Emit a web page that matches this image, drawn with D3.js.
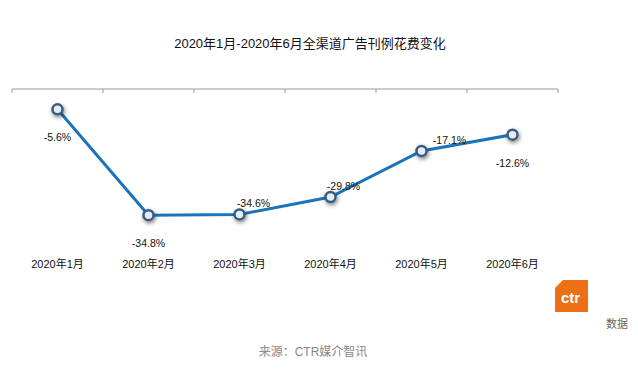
<!DOCTYPE html>
<html>
<head>
<meta charset="utf-8">
<script src="https://cdn.jsdelivr.net/npm/d3@7"></script>
<style>
  body { margin: 0; background: #fff; }
  text { font-family: Arial, "Liberation Sans", "Noto Sans CJK SC", sans-serif; }
</style>
</head>
<body>
<script>
// monthly change, %
const months = ["2020年1月", "2020年2月", "2020年3月", "2020年4月", "2020年5月", "2020年6月"];
const changes = [-5.6, -34.8, -34.6, -29.8, -17.1, -12.6];
// where each value label sits relative to its point
const labelPos = ["below", "below", "above", "above", "above", "below"];

const W = 638, H = 388;
const svg = d3.select("body").append("svg")
    .attr("width", W).attr("height", H);

// drop shadow for the markers
const defs = svg.append("defs");
const f = defs.append("filter").attr("id", "shadow")
    .attr("x", "-100%").attr("y", "-100%").attr("width", "300%").attr("height", "300%");
f.append("feDropShadow").attr("dx", 1).attr("dy", 2).attr("stdDeviation", 2)
    .attr("flood-color", "#000").attr("flood-opacity", 0.5);

var x = d3.scaleBand().domain(months).range([12, 558]);
var y = d3.scaleLinear().domain([0, -40]).range([89, 234]);

// title
svg.append("text")
    .attr("x", 310).attr("y", 48)
    .attr("text-anchor", "middle")
    .style("font-size", "13px").style("fill", "#111")
    .text("2020年1月-2020年6月全渠道广告刊例花费变化");

// axis at zero, along the top
var axis = svg.append("g")
    .attr("transform", "translate(0," + y(0) + ")")
    .call(d3.axisBottom(x).tickSize(0).tickFormat(""));
axis.select(".domain").attr("stroke", "#999").attr("d", "M12,0H558");
axis.selectAll(".tick").remove();
axis.selectAll("line.sep")
    .data(months.concat(["end"]))
    .join("line")
    .attr("class", "sep")
    .attr("x1", (d, i) => i < months.length ? x(d) : x.range()[1])
    .attr("x2", (d, i) => i < months.length ? x(d) : x.range()[1])
    .attr("y1", 0).attr("y2", 4)
    .attr("stroke", "#999");

// category labels
svg.selectAll("text.cat")
    .data(months)
    .join("text")
    .attr("class", "cat")
    .attr("x", d => x(d) + x.bandwidth() / 2)
    .attr("y", 268)
    .attr("text-anchor", "middle")
    .style("font-size", "11px").style("fill", "#111")
    .text(d => d);

// line
var line = d3.line()
    .x((d, i) => x(months[i]) + x.bandwidth() / 2)
    .y(d => y(d));
svg.append("path")
    .datum(changes)
    .attr("d", line)
    .attr("fill", "none")
    .attr("stroke", "#1a74bb")
    .attr("stroke-width", 3);

// markers
svg.selectAll("circle.pt")
    .data(changes)
    .join("circle")
    .attr("class", "pt")
    .attr("cx", (d, i) => x(months[i]) + x.bandwidth() / 2)
    .attr("cy", d => y(d))
    .attr("r", 5)
    .attr("fill", "#e4eefa")
    .attr("stroke", "#3d5a7e")
    .attr("stroke-width", 2.5)
    .attr("filter", "url(#shadow)");

// value labels
svg.selectAll("text.val")
    .data(changes)
    .join("text")
    .attr("class", "val")
    .attr("x", (d, i) => {
        var cx = x(months[i]) + x.bandwidth() / 2;
        if (i == 2) return cx + 14;
        if (i == 3) return cx + 13;
        if (i == 4) return cx + 28;
        return cx;
    })
    .attr("y", (d, i) => labelPos[i] == "above" ? y(d) - 7 : y(d) + 32)
    .attr("text-anchor", "middle")
    .style("font-size", "10.5px").style("fill", "#111")
    .text(d => d.toFixed(1) + "%");

// ctr logo
var logo = svg.append("g");
logo.append("clipPath").attr("id", "logoclip")
    .append("rect").attr("x", 550).attr("y", 270).attr("width", 38).attr("height", 50);
var lg = logo.append("g").attr("clip-path", "url(#logoclip)");
lg.append("path")
    .attr("d", "M563,280 L596,280 L596,312 L555,312 L555,288 Z")
    .attr("fill", "#ec7014");
lg.append("text")
    .attr("x", 561).attr("y", 303)
    .style("font-size", "15px").style("font-weight", "bold").style("fill", "#fff")
    .text("ctr");
svg.append("text")
    .attr("x", 606).attr("y", 328)
    .style("font-size", "11px").style("fill", "#666")
    .text("数据");

// source
svg.append("text")
    .attr("x", 313).attr("y", 356)
    .attr("text-anchor", "middle")
    .style("font-size", "12px").style("fill", "#888")
    .text("来源：CTR媒介智讯");
</script>
</body>
</html>
